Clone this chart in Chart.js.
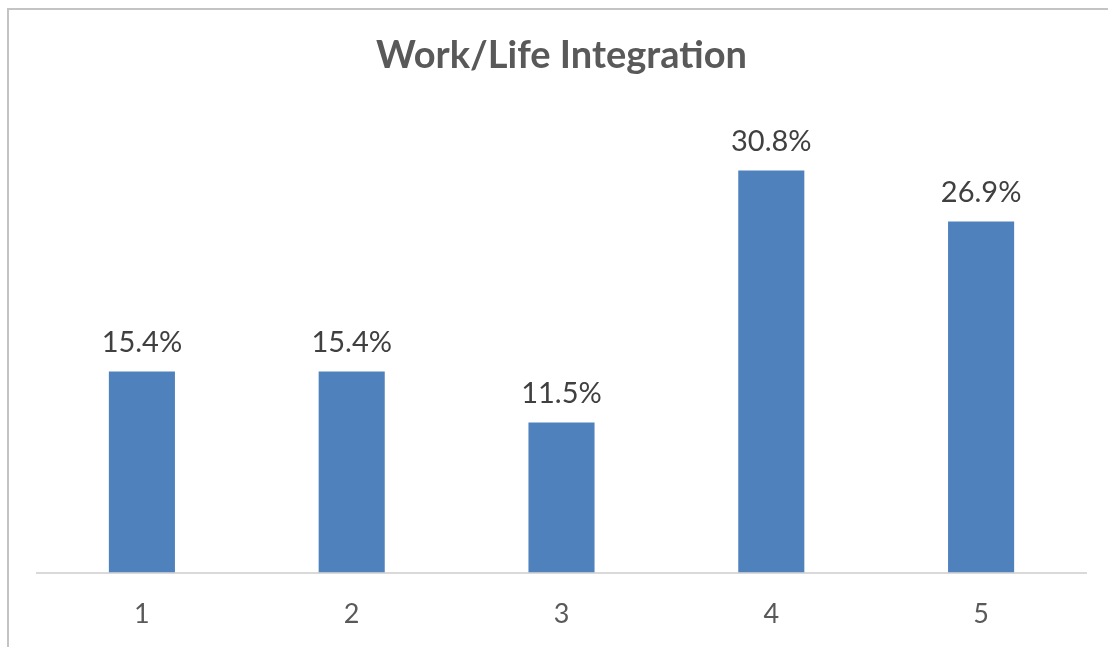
<!DOCTYPE html>
<html>
<head>
    <title>Work/Life Integration</title>
    <script src="https://cdn.jsdelivr.net/npm/chart.js"></script>
    <style>
        body { margin: 0; overflow: hidden; background: #fff; }
        #frame { position: absolute; left: 7px; top: 8px; width: 2000px; height: 2000px;
                 border-top: 2px solid #c4c4c4; border-left: 2px solid #c4c4c4; }
        #wrap { position: absolute; left: 0; top: 0; width: 1108px; height: 655px; }
    </style>
</head>
<body>
    <div id="frame"></div>
    <div id="wrap"><canvas id="chart"></canvas></div>
<script>
// chart data
const categories = ['1', '2', '3', '4', '5'];
const shares = [15.4, 15.4, 11.5, 30.8, 26.9];
const chartTitle = 'Work/Life Integration';

// draw the "15.4%" labels above each bar
const valueLabels = {
    id: 'valueLabels',
    afterDatasetsDraw(chart) {
        const ctx = chart.ctx;
        const meta = chart.getDatasetMeta(0);
        ctx.save();
        ctx.font = '29px Lato';
        ctx.fillStyle = '#404040';
        ctx.textAlign = 'center';
        ctx.textBaseline = 'alphabetic';
        meta.data.forEach(function (bar, i) {
            ctx.fillText(shares[i].toFixed(1) + '%', bar.x, bar.y - 20);
        });
        ctx.restore();
    }
};

const ctx = document.getElementById('chart').getContext('2d');
new Chart(ctx, {
    type: 'bar',
    data: {
        labels: categories,
        datasets: [{
            data: shares,
            backgroundColor: '#4f81bd',
            categoryPercentage: 1,
            barPercentage: 0.315
        }]
    },
    options: {
        responsive: true,
        maintainAspectRatio: false,
        animation: false,
        layout: { padding: { left: 37, right: 22, top: 0, bottom: 0 } },
        plugins: {
            legend: { display: false },
            tooltip: { enabled: false },
            title: {
                display: true,
                text: chartTitle,
                color: '#595959',
                font: { family: 'Lato', size: 38, weight: 'bold' },
                padding: { top: 33.2, bottom: 37 }
            }
        },
        scales: {
            x: {
                grid: { display: false, drawTicks: false },
                border: { display: true, color: '#d9d9d9', width: 2 },
                ticks: { color: '#595959', font: { family: 'Lato', size: 27 }, padding: 25 }
            },
            y: {
                display: false,
                min: 0,
                max: 35
            }
        }
    },
    plugins: [valueLabels]
});
</script>
</body>
</html>
